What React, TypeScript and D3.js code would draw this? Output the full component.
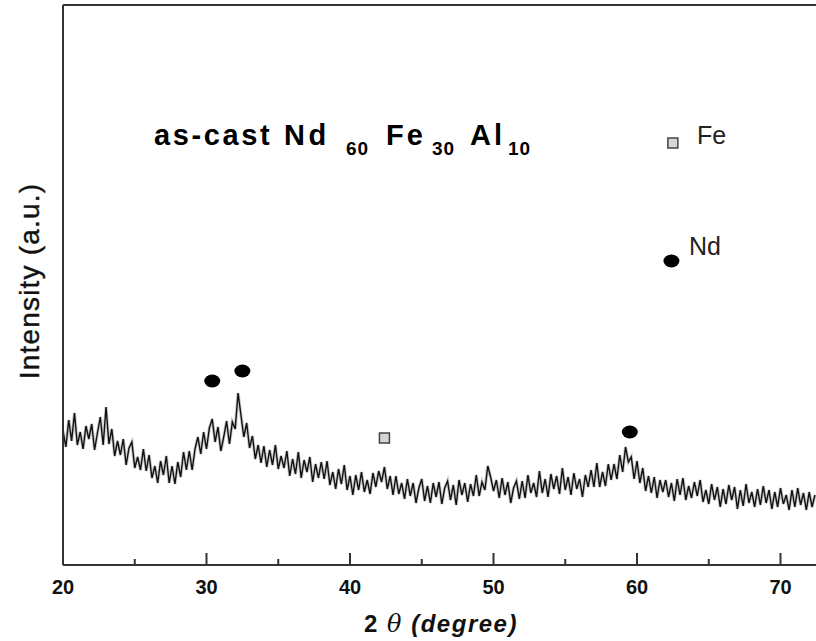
import React from 'react';
import * as d3 from 'd3';

// XRD scan, 20° to 72.4° in 0.2° steps (intensity, a.u.)
const scanStart = 20;
const scanStep = 0.2;
const intensity = [
  134, 118, 145, 124, 152, 120, 133, 116, 139, 126,
  141, 115, 132, 148, 120, 158, 121, 136, 109, 124,
  110, 126, 100, 117, 123, 97, 108, 95, 116, 94,
  110, 87, 99, 82, 104, 90, 109, 82, 99, 81,
  103, 88, 113, 95, 114, 95, 116, 128, 111, 133,
  116, 137, 146, 123, 138, 114, 128, 144, 121, 143,
  136, 172, 150, 128, 142, 117, 129, 106, 120, 102,
  119, 98, 115, 100, 120, 96, 109, 97, 114, 89,
  106, 91, 113, 87, 105, 93, 108, 83, 101, 87,
  103, 86, 104, 80, 93, 76, 96, 81, 100, 75,
  89, 70, 90, 75, 93, 73, 85, 71, 92, 78,
  94, 83, 98, 76, 89, 70, 89, 71, 82, 66,
  86, 69, 82, 62, 77, 86, 64, 79, 62, 82,
  68, 83, 61, 77, 84, 65, 80, 60, 85, 70,
  82, 63, 81, 69, 90, 69, 83, 75, 99, 88,
  74, 85, 67, 87, 70, 83, 62, 77, 84, 66,
  84, 67, 90, 72, 82, 68, 94, 72, 86, 68,
  91, 76, 89, 71, 97, 75, 88, 70, 92, 76,
  86, 68, 90, 78, 95, 78, 102, 78, 93, 79,
  101, 85, 101, 86, 110, 93, 118, 103, 108, 86,
  104, 82, 97, 74, 89, 72, 88, 67, 85, 73,
  85, 68, 82, 64, 86, 70, 87, 65, 79, 67,
  83, 69, 85, 63, 75, 61, 81, 65, 78, 58,
  76, 61, 80, 65, 78, 56, 75, 59, 81, 62,
  73, 58, 76, 60, 79, 62, 75, 56, 73, 58,
  77, 61, 70, 55, 75, 58, 77, 60, 72, 55,
  73, 58, 70,
];

// phase markers: [2θ, height (a.u.)]
const ndPeaks = [[30.4, 184], [32.5, 194], [59.5, 133]];
const fePeaks = [[42.4, 127]];
const legendItems = [
  { phase: 'Fe', angle: 62.5, level: 422 },
  { phase: 'Nd', angle: 62.4, level: 304 },
];

const majorTicks = [20, 30, 40, 50, 60, 70];
const minorTicks = [25, 35, 45, 55, 65];

const FONT = "Arial, 'Liberation Sans', Helvetica, sans-serif";

export default function App() {
  const left = 63, top = 5, bottom = 565, right = 816;
  const x = d3.scaleLinear().domain([20, 70]).range([left, 780.5]);
  const y = d3.scaleLinear().domain([0, 560]).range([bottom, top]);

  const line = d3.line<number>()
    .x((d, i) => x(scanStart + i * scanStep))
    .y(d => y(d));
  const tracePath = line(intensity) || '';

  const frame = '#333';

  return (
    <svg width={816} height={641} style={{ position: 'absolute', left: 0, top: 0, background: '#fff' }}
      fontFamily={FONT}>
      {/* trace */}
      <path d={tracePath} fill="none" stroke="#888" strokeWidth={3.2} opacity={0.45} />
      <path d={tracePath} fill="none" stroke="#111" strokeWidth={1.4} />

      {/* frame */}
      <line x1={left} x2={right} y1={top} y2={top} stroke={frame} strokeWidth={2} />
      <line x1={left} x2={left} y1={top} y2={bottom} stroke={frame} strokeWidth={2} />
      <line x1={left} x2={right} y1={bottom} y2={bottom} stroke={frame} strokeWidth={2} />

      {majorTicks.map(t => (
        <g key={t}>
          <line x1={x(t)} x2={x(t)} y1={bottom} y2={bottom - 12} stroke={frame} strokeWidth={2} />
          <text x={x(t)} y={594} textAnchor="middle" fontSize={20} fontWeight="bold" fill="#111">{t}</text>
        </g>
      ))}
      {minorTicks.map(t => (
        <line key={t} x1={x(t)} x2={x(t)} y1={bottom} y2={bottom - 6} stroke={frame} strokeWidth={2} />
      ))}

      {/* axis titles */}
      <text x={441} y={632} textAnchor="middle" fontSize={24} fontWeight="bold" fill="#111" letterSpacing={1.5}>
        2 <tspan fontStyle="italic" fontWeight="normal" fontFamily="'DejaVu Serif', serif">θ</tspan>
        <tspan fontStyle="italic"> (degree)</tspan>
      </text>
      <text transform="translate(39,281) rotate(-90)" textAnchor="middle" fontSize={28} fill="#111"
        letterSpacing={1.2} stroke="#111" strokeWidth={0.4}>
        Intensity (a.u.)
      </text>

      {/* sample label */}
      <g fontWeight="bold" fill="#000">
        <text x={154} y={145} fontSize={29} letterSpacing={2.6}>as-cast</text>
        <text x={284} y={145} fontSize={29} letterSpacing={3.5}>Nd</text>
        <text x={346} y={155} fontSize={19} letterSpacing={1}>60</text>
        <text x={386} y={145} fontSize={29} letterSpacing={3}>Fe</text>
        <text x={432} y={155} fontSize={19} letterSpacing={1}>30</text>
        <text x={470} y={145} fontSize={29} letterSpacing={3}>Al</text>
        <text x={508} y={155} fontSize={19} letterSpacing={1}>10</text>
      </g>

      {/* peak markers */}
      {ndPeaks.map(([a, v]) => (
        <ellipse key={'nd' + a} cx={x(a)} cy={y(v)} rx={8} ry={6.5} fill="#000" />
      ))}
      {fePeaks.map(([a, v]) => (
        <rect key={'fe' + a} x={x(a) - 5} y={y(v) - 5} width={10} height={10} fill="#d6d6d6" stroke="#444" strokeWidth={1.5} />
      ))}

      {/* legend */}
      {legendItems.map(it => (
        <g key={it.phase}>
          {it.phase === 'Fe'
            ? <rect x={x(it.angle) - 5} y={y(it.level) - 5} width={10} height={10} fill="#d6d6d6" stroke="#444" strokeWidth={1.5} />
            : <ellipse cx={x(it.angle)} cy={y(it.level)} rx={8} ry={6.5} fill="#000" />}
          <text x={it.phase === 'Fe' ? 697 : 689} y={it.phase === 'Fe' ? 144 : 255} fontSize={25} fill="#222">{it.phase}</text>
        </g>
      ))}
    </svg>
  );
}
